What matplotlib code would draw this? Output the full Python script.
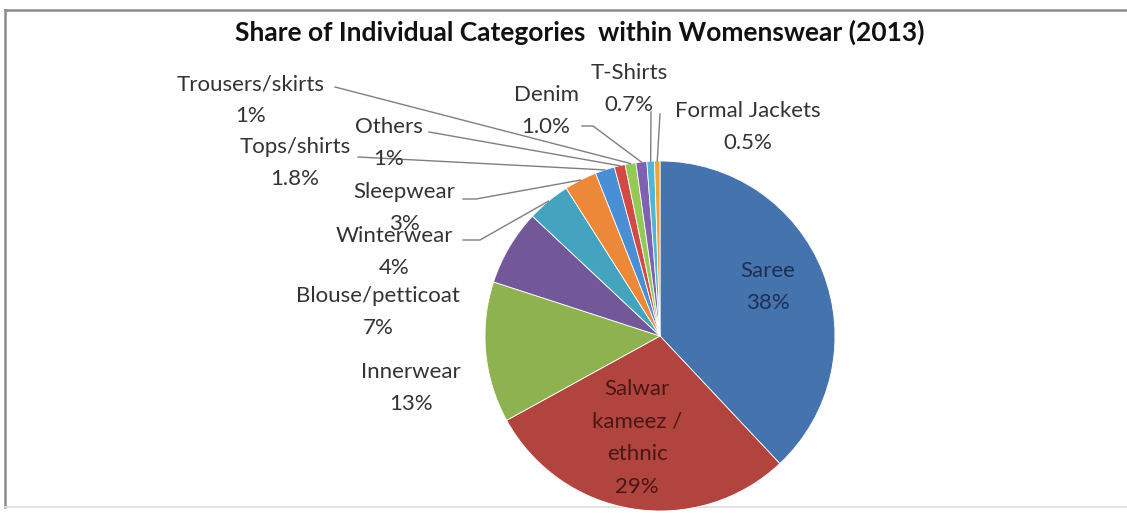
import numpy as np
import matplotlib.pyplot as plt

# --- Data (clockwise from 12 o'clock) ---
categories = ["Saree", "Salwar\nkameez /\nethnic", "Innerwear", "Blouse/petticoat",
              "Winterwear", "Sleepwear", "Tops/shirts", "Others", "Trousers/skirts",
              "Denim", "T-Shirts", "Formal Jackets"]
shares = [38, 29, 13, 7, 4, 3, 1.8, 1, 1, 1.0, 0.7, 0.5]
pct_labels = ["38%", "29%", "13%", "7%", "4%", "3%", "1.8%", "1%", "1%", "1.0%", "0.7%", "0.5%"]

colors = ["#4573AD", "#B2443F", "#8FB251", "#735899", "#44A3BE", "#EC8837",
          "#4A8FD6", "#D24A45", "#93C955", "#8060B0", "#50B6D6", "#F0A23A"]

W, H = 1127, 513
fig = plt.figure(figsize=(W / 100, H / 100), dpi=100)
ax = fig.add_axes([0, 0, 1, 1])

def Y(y):
    # image row -> data y
    return H - y

# frame
ax.plot([5, W + 5], [Y(10), Y(10)], color="#8c8c8c", lw=1.8, zorder=0)
ax.plot([5, 5], [Y(10), Y(507)], color="#8c8c8c", lw=1.8, zorder=0)
ax.plot([5, W + 5], [Y(507), Y(507)], color="#dcdcdc", lw=1.2, zorder=0)

cx, cy, r = 660, Y(336), 175
wedges, _ = ax.pie(shares, colors=colors, startangle=90, counterclock=False,
                   center=(cx, cy), radius=r, frame=True,
                   wedgeprops=dict(edgecolor="white", linewidth=0.6))
ax.set_xlim(0, W)
ax.set_ylim(0, H)
ax.set_aspect("auto")
ax.axis("off")

font = "Lato"
fs = 16
txt_col = "#333333"

# label centre positions (image coords) and leader anchor points
layout = {
    "Saree": (768, 287, None),
    "Salwar\nkameez /\nethnic": (637, 438, None),
    "Innerwear": (411, 388, None),
    "Blouse/petticoat": (378, 312, None),
    "Winterwear": (394, 252, [(463, 240), (480, 240)]),
    "Sleepwear": (404, 208, [(463, 199), (476, 199)]),
    "Tops/shirts": (295, 163, [(358, 157)]),
    "Others": (389, 143, [(429, 132)]),
    "Trousers/skirts": (251, 100, [(335, 87)]),
    "Denim": (546, 111, [(582, 126), (593, 126)]),
    "T-Shirts": (629, 89, [(651, 112)]),
    "Formal Jackets": (748, 127, [(660, 114)]),
}

for w, cat, pct in zip(wedges, categories, pct_labels):
    x, y, anchors = layout[cat]
    col = txt_col
    ls = 1.7
    if cat == "Saree":
        col = "#1c2f55"
    elif cat.startswith("Salwar"):
        col = "#4a1616"
        ls = 1.8
    ax.text(x, Y(y), f"{cat}\n{pct}", ha="center", va="center", fontsize=fs,
            family=font, color=col, linespacing=ls, zorder=5)
    if anchors:
        mid = np.deg2rad((w.theta1 + w.theta2) / 2)
        ex, ey = cx + r * np.cos(mid), cy + r * np.sin(mid)
        xs = [a[0] for a in anchors] + [ex]
        ys = [Y(a[1]) for a in anchors] + [ey]
        ax.plot(xs, ys, color="#7f7f7f", lw=1.0, zorder=4)

ax.text(580, Y(32), "Share of Individual Categories  within Womenswear (2013)",
        ha="center", va="center", fontsize=19, fontweight="bold", family=font, color="#111111")

fig.savefig("out.png", dpi=100)
